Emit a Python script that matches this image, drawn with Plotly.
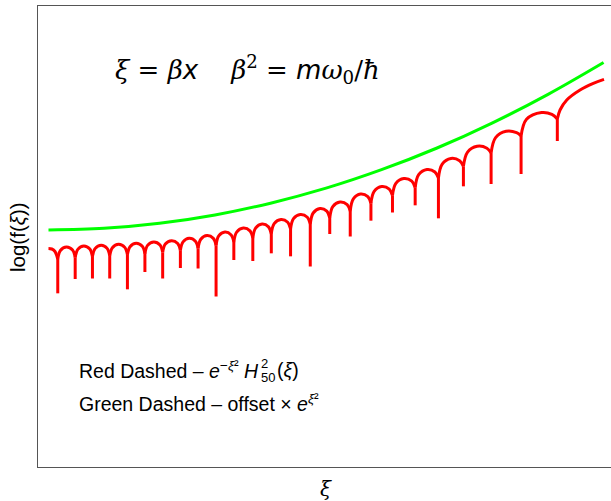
import plotly.graph_objects as go

# ---- data (x in ξ, y in log units) ----
cusp_xi = [0.167, 0.481, 0.792, 1.103, 1.422, 1.737, 2.057, 2.376, 2.695, 3.019,
           3.339, 3.681, 4.014, 4.361, 4.716, 5.067, 5.436, 5.809, 6.197, 6.606,
           7.025, 7.475, 7.974, 8.514, 9.167]
cusp_join_y = [-5.4, -4.5, -4.0, -3.5, -2.9, -2.2, -1.4, -0.3, 1.0, 2.8,
               4.8, 7.2, 9.7, 12.6, 15.6, 19.3, 23.4, 28.0, 32.7, 37.5,
               43.2, 50.2, 58.3, 68.4, 78.6]
cusp_floor_y = [-26.0, -17.4, -17.1, -17.1, -23.6, -13.2, -17.1, -10.8, -11.1, -27.9,
                -6.0, -6.6, -2.0, -3.8, -9.9, 9.6, 8.1, 17.6, 22.5, 26.8,
                19.0, 38.2, 39.6, 45.6, 65.4]

arch_rise_x = [0.214, 0.528, 0.839, 1.151, 1.469, 1.785, 2.105, 2.424, 2.744, 3.067,
               3.390, 3.731, 4.066, 4.414, 4.769, 5.122, 5.492, 5.867, 6.258, 6.669,
               7.093, 7.550, 8.055, 8.612]
arch_rise_y = [-0.3, 0.4, 0.83, 1.4, 2.0, 2.77, 3.57, 4.88, 6.47, 8.48,
               10.76, 13.16, 15.81, 18.78, 22.2, 26.04, 30.64, 35.17, 39.94, 45.17,
               51.51, 58.72, 67.46, 78.41]
arch_peak_x = [0.324, 0.637, 0.949, 1.264, 1.580, 1.897, 2.218, 2.534, 2.857, 3.179,
               3.510, 3.848, 4.189, 4.536, 4.891, 5.251, 5.621, 6.003, 6.401, 6.817,
               7.250, 7.722, 8.244, 8.883]
arch_peak_y = [1.8, 2.4, 2.8, 3.4, 4.0, 4.8, 5.6, 7.0, 8.7, 10.8,
               13.2, 15.6, 18.3, 21.3, 24.9, 28.8, 33.6, 38.1, 42.9, 48.3,
               54.9, 62.2, 71.2, 82.5]
arch_fall_x = [0.434, 0.745, 1.056, 1.374, 1.690, 2.009, 2.328, 2.647, 2.970, 3.291,
               3.630, 3.964, 4.309, 4.663, 5.014, 5.381, 5.753, 6.139, 6.545, 6.962,
               7.407, 7.899, 8.433, 9.069]
arch_fall_y = [-0.03, 0.54, 0.97, 1.57, 2.2, 3.0, 3.89, 5.26, 6.99, 9.06,
               11.46, 13.89, 16.65, 19.65, 23.28, 27.23, 31.98, 36.53, 41.33, 46.82,
               53.54, 61.07, 70.39, 81.37]

head_x = [0.0, 0.06, 0.117]
head_y = [0.9, 0.6, -0.9]
tail_x = [9.216, 9.337, 9.576, 9.815, 10.008]
tail_y = [84.0, 90.0, 96.0, 100.0, 102.4]

green_x = [0, 1, 2, 3, 4, 5, 6, 7, 8, 9, 10]
green_y = [12.0, 13.0, 16.0, 21.0, 28.1, 37.1, 48.2, 61.2, 76.3, 93.4, 112.5]

# ---- assemble red curve as separate smooth arches plus vertical spikes ----
rx, ry = [], []
rx += head_x + [cusp_xi[0], None]
ry += head_y + [cusp_join_y[0], None]
for k in range(len(arch_peak_x)):
    rx += [cusp_xi[k], arch_rise_x[k], arch_peak_x[k], arch_fall_x[k], cusp_xi[k + 1], None]
    ry += [cusp_join_y[k], arch_rise_y[k], arch_peak_y[k], arch_fall_y[k], cusp_join_y[k + 1], None]
rx += [cusp_xi[-1]] + tail_x + [None]
ry += [cusp_join_y[-1]] + tail_y + [None]
for k in range(len(cusp_xi)):
    rx += [cusp_xi[k], cusp_xi[k], None]
    ry += [cusp_join_y[k], cusp_floor_y[k], None]

fig = go.Figure()
fig.add_trace(go.Scatter(x=green_x, y=green_y, mode="lines",
                         line=dict(color="#00ff00", width=3, shape="spline"),
                         hoverinfo="skip", showlegend=False))
fig.add_trace(go.Scatter(x=rx, y=ry, mode="lines", connectgaps=False,
                         line=dict(color="#ff0000", width=3, shape="spline"),
                         hoverinfo="skip", showlegend=False))

W, H = 611, 501
ml, mr, mt, mb = 38, 0, 6, 34
pw, ph = W - ml - mr, H - mt - mb

def px(x):
    return (x - ml) / pw

def py(y):
    return (H - mb - y) / ph

fig.update_layout(
    width=W, height=H,
    margin=dict(l=ml, r=mr, t=mt, b=mb, pad=0),
    paper_bgcolor="white", plot_bgcolor="white",
    xaxis=dict(range=[-0.189, 10.134], showline=True, linecolor="#555", linewidth=1.3,
               mirror=True, showticklabels=False, ticks="", showgrid=False, zeroline=False),
    yaxis=dict(range=[-130.2, 146.4], showline=True, linecolor="#555", linewidth=1.3,
               mirror=False, showticklabels=False, ticks="", showgrid=False, zeroline=False),
    font=dict(family="Liberation Sans, Arial, sans-serif", color="#000"),
)

SANS = '<span style="font-family:DejaVu Sans">'
annots = [
    dict(text="<i>ξ</i>", x=px(326), y=py(489), xanchor="center", yanchor="middle",
         font=dict(size=20, family="DejaVu Serif")),
    dict(text="log(f(<i>ξ</i>))", x=px(17), y=py(237), textangle=-90,
         xanchor="center", yanchor="middle", font=dict(size=20.5)),
    dict(text="<i>ξ</i> = <i>β</i>" + SANS + "<i>x</i></span>    <i>β</i><sup>2</sup> = "
              + SANS + "<i>m</i></span><i>ω</i><sub>0</sub>/<i>ħ</i>",
         x=px(113), y=py(70), xanchor="left", yanchor="middle",
         font=dict(size=26, family="DejaVu Serif")),
    dict(text="Red Dashed – <i>e</i><sup>−<i>ξ</i>²</sup> <i>H</i>",
         x=px(77), y=py(370), xanchor="left", yanchor="middle", font=dict(size=19.5)),
    dict(text="2", x=px(259), y=py(363), xanchor="left", yanchor="middle", font=dict(size=13)),
    dict(text="50", x=px(259), y=py(377), xanchor="left", yanchor="middle", font=dict(size=13)),
    dict(text="(<i>ξ</i>)", x=px(275), y=py(370), xanchor="left", yanchor="middle",
         font=dict(size=19.5)),
    dict(text="Green Dashed – offset × <i>e</i><sup><i>ξ</i>²</sup>",
         x=px(77), y=py(403), xanchor="left", yanchor="middle", font=dict(size=19.5)),
]
for a in annots:
    a.update(xref="paper", yref="paper", showarrow=False)
    fig.add_annotation(**a)

fig.write_html("out.html", config={"displayModeBar": False},
               post_script="document.body.style.margin='0';")
